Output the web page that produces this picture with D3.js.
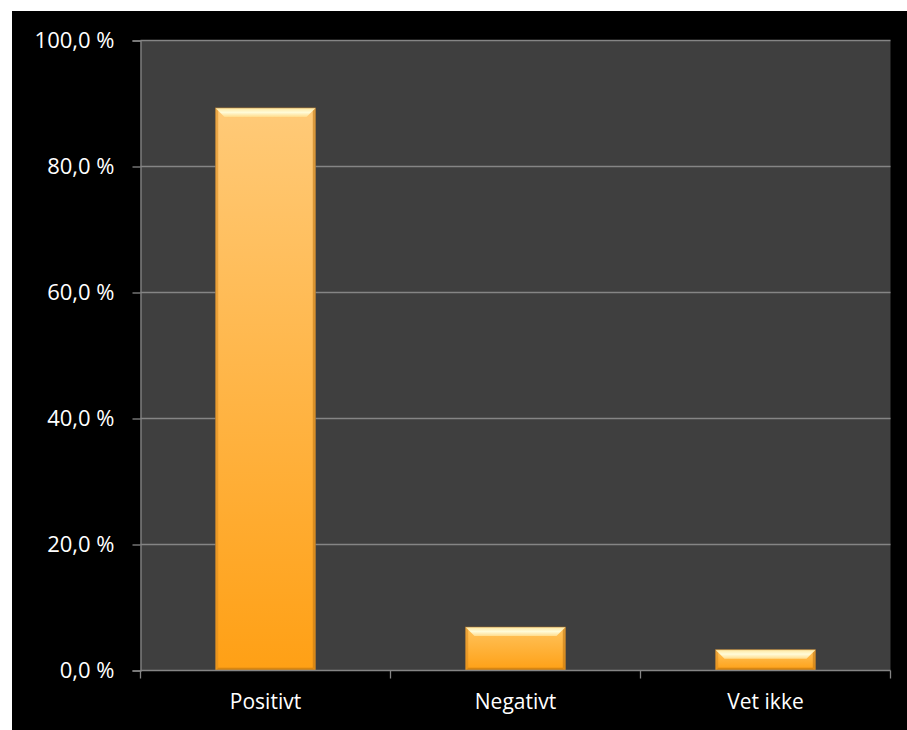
<!DOCTYPE html>
<html><head><meta charset="utf-8">
<script src="https://cdn.jsdelivr.net/npm/d3@7"></script>
<style>
html,body{margin:0;padding:0;background:#fff;}
svg{display:block;}
</style></head>
<body>
<script>
const categories = ["Positivt", "Negativt", "Vet ikke"];
const values = [89.3, 6.9, 3.3];
const yTicks = [0, 20, 40, 60, 80, 100];

const W = 907, H = 730;
const svg = d3.select("body").append("svg").attr("width", W).attr("height", H);
svg.append("rect").attr("x", 12).attr("y", 11).attr("width", W - 12).attr("height", H - 11).attr("fill", "#000");

const m = {l: 140.5, r: 890.5, t: 40.5, b: 670.5};
const x = d3.scaleBand().domain(categories).range([m.l, m.r]).paddingInner(0.6).paddingOuter(0.3);
const y = d3.scaleLinear().domain([0, 100]).range([m.b, m.t]);

svg.append("rect").attr("x", m.l).attr("y", m.t).attr("width", m.r - m.l).attr("height", m.b - m.t).attr("fill", "#3f3f3f");

const font = "'Open Sans', 'Liberation Sans', sans-serif";

svg.append("g").selectAll("line").data(yTicks.filter(d => d > 0)).join("line")
  .attr("x1", m.l).attr("x2", m.r).attr("y1", d => y(d)).attr("y2", d => y(d))
  .attr("stroke", "#858585").attr("stroke-width", 1.3);

const defs = svg.append("defs");

const bars = svg.append("g").selectAll("g").data(categories).join("g");
bars.each(function(c, i) {
  const g = d3.select(this);
  const x0 = x(c), w = x.bandwidth(), y0 = y(values[i]), y1 = y(0), h = y1 - y0;
  const b = Math.min(9, h / 2.3);
  const gid = "bg" + i;
  const gr = defs.append("linearGradient").attr("id", gid).attr("gradientUnits", "userSpaceOnUse")
    .attr("x1", 0).attr("x2", 0).attr("y1", y0).attr("y2", y1);
  const top = h > 100 ? "#ffca78" : "#ffc45e";
  gr.append("stop").attr("offset", "0%").attr("stop-color", top);
  gr.append("stop").attr("offset", "100%").attr("stop-color", "#ffa015");
  const tg = defs.append("linearGradient").attr("id", "tb" + i).attr("gradientUnits", "userSpaceOnUse")
    .attr("x1", 0).attr("x2", 0).attr("y1", y0).attr("y2", y0 + b);
  tg.append("stop").attr("offset", "0%").attr("stop-color", "#ffe8a0");
  tg.append("stop").attr("offset", "50%").attr("stop-color", "#fffbd8");
  tg.append("stop").attr("offset", "100%").attr("stop-color", "#ffdc8c");
  g.append("rect").attr("x", x0).attr("y", y0).attr("width", w).attr("height", h).attr("fill", `url(#${gid})`);
  const pts = a => a.map(p => p.join(",")).join(" ");
  const s = b * 0.3;
  g.append("polygon").attr("points", pts([[x0, y0], [x0 + s, y0 + s], [x0 + s, y1 - s], [x0, y1]]))
    .attr("fill", "#d88a20").attr("opacity", 0.55);
  g.append("polygon").attr("points", pts([[x0 + w, y0], [x0 + w - s, y0 + s], [x0 + w - s, y1 - s], [x0 + w, y1]]))
    .attr("fill", "#c07818").attr("opacity", 0.6);
  g.append("polygon").attr("points", pts([[x0, y1], [x0 + w, y1], [x0 + w - s, y1 - s], [x0 + s, y1 - s]]))
    .attr("fill", "#c87a10").attr("opacity", 0.7);
  g.append("polygon").attr("points", pts([[x0, y0], [x0 + w, y0], [x0 + w - b, y0 + b], [x0 + b, y0 + b]]))
    .attr("fill", `url(#tb${i})`);
  g.append("rect").attr("x", x0).attr("y", y0).attr("width", w).attr("height", h)
    .attr("fill", "none").attr("stroke", "#a87430").attr("stroke-width", 0.8).attr("stroke-opacity", 0.7);
});

const yAxis = d3.axisLeft(y).tickValues(yTicks).tickSize(8).tickPadding(18)
  .tickFormat(d => d3.format(".1f")(d).replace(".", ",") + " %");
const ya = svg.append("g").attr("transform", `translate(${m.l},0)`).call(yAxis);
ya.select(".domain").attr("stroke", "#858585").attr("stroke-width", 1.3);
ya.selectAll(".tick line").attr("stroke", "#858585").attr("stroke-width", 1.3);
ya.selectAll("text").attr("fill", "#fff").attr("font-family", font).attr("font-size", 22);

const xAxis = d3.axisBottom(x).tickSize(0).tickPadding(24);
const xa = svg.append("g").attr("transform", `translate(0,${m.b})`).call(xAxis);
xa.select(".domain").remove();
xa.append("line").attr("x1", m.l).attr("x2", m.r).attr("stroke", "#858585").attr("stroke-width", 1.3);
const bounds = [0, 1, 2, 3].map(i => m.l + i * (m.r - m.l) / 3);
xa.selectAll(".sep").data(bounds).join("line").attr("class", "sep")
  .attr("x1", d => d).attr("x2", d => d).attr("y1", 0).attr("y2", 8)
  .attr("stroke", "#858585").attr("stroke-width", 1.3);
xa.selectAll(".tick text").attr("fill", "#fff").attr("font-family", font).attr("font-size", 21);
</script>
</body></html>
